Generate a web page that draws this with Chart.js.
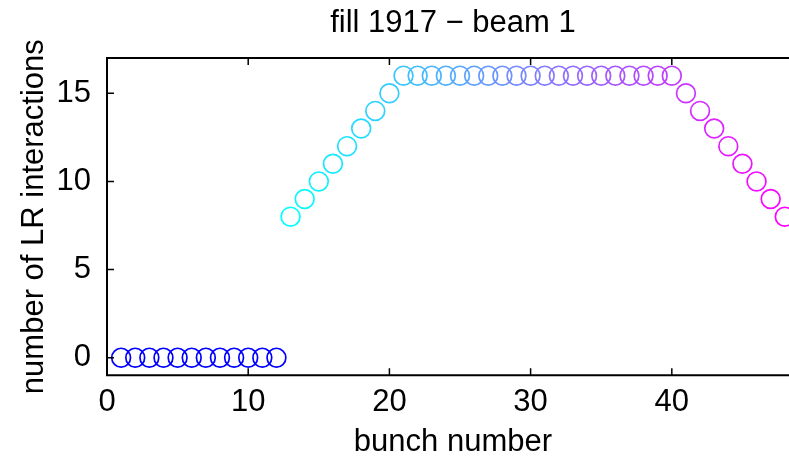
<!DOCTYPE html>
<html>
<head>
<meta charset="utf-8">
<script src="https://cdn.jsdelivr.net/npm/chart.js@4.4.1/dist/chart.umd.min.js"></script>
<style>
html, body { margin: 0; padding: 0; background: #ffffff; overflow: hidden; width: 789px; height: 457px; }
#wrap { width: 789px; height: 457px; overflow: hidden; position: relative; }
canvas { display: block; }
</style>
</head>
<body>
<div id="wrap"><canvas id="c" width="810" height="457"></canvas></div>
<script>
const titleText = "fill 1917 \u2212 beam 1";
const xLabel = "bunch number";
const yLabel = "number of LR interactions";
const bunchNumbers = [1,2,3,4,5,6,7,8,9,10,11,12,13,14,15,16,17,18,19,20,21,22,23,24,25,26,27,28,29,30,31,32,33,34,35,36,37,38,39,40,41,42,43,44,45,46,47,48];
const lrInteractions = [0,0,0,0,0,0,0,0,0,0,0,0,8,9,10,11,12,13,14,15,16,16,16,16,16,16,16,16,16,16,16,16,16,16,16,16,16,16,16,16,15,14,13,12,11,10,9,8];
const xTicks = [0,10,20,30,40];
const yTicks = [0,5,10,15];

const FONT = "'Liberation Sans', Arial, Helvetica, sans-serif";
const FS = 31;

// colours: first train blue, then "cool" colormap cyan -> magenta
const pointColors = bunchNumbers.map((b, i) => {
  if (i < 12) return 'rgb(0,0,255)';
  const t = (i - 12) / (bunchNumbers.length - 13);
  const r = Math.round(255 * t), g = Math.round(255 * (1 - t));
  return `rgb(${r},${g},255)`;
});

const points = bunchNumbers.map((b, i) => ({x: b, y: lrInteractions[i]}));

const framePlugin = {
  id: 'frame',
  afterDatasetsDraw(chart) {
    const ctx = chart.ctx;
    const a = chart.chartArea;
    const xs = chart.scales.x, ys = chart.scales.y;
    ctx.save();
    ctx.strokeStyle = '#000';
    ctx.lineWidth = 2;
    ctx.beginPath();
    ctx.rect(a.left, a.top, a.right - a.left, a.bottom - a.top);
    ctx.stroke();
    const tl = 7;
    ctx.beginPath();
    xTicks.forEach(v => {
      const px = xs.getPixelForValue(v);
      ctx.moveTo(px, a.bottom); ctx.lineTo(px, a.bottom - tl);
      ctx.moveTo(px, a.top); ctx.lineTo(px, a.top + tl);
    });
    yTicks.forEach(v => {
      const py = ys.getPixelForValue(v);
      ctx.moveTo(a.left, py); ctx.lineTo(a.left + tl, py);
      ctx.moveTo(a.right, py); ctx.lineTo(a.right - tl, py);
    });
    ctx.lineWidth = 1.5;
    ctx.stroke();
    // title
    ctx.fillStyle = '#000';
    ctx.font = `${FS}px ${FONT}`;
    ctx.textAlign = 'center';
    ctx.textBaseline = 'alphabetic';
    ctx.fillText(titleText, (a.left + a.right) / 2, 31.5);
    ctx.restore();
  }
};

new Chart(document.getElementById('c'), {
  type: 'scatter',
  data: {
    datasets: [{
      data: points,
      showLine: false,
      pointStyle: 'circle',
      pointRadius: 9.4,
      pointHoverRadius: 9.4,
      pointBorderWidth: 1.7,
      pointBackgroundColor: 'rgba(0,0,0,0)',
      pointBorderColor: pointColors
    }]
  },
  options: {
    responsive: false,
    animation: false,
    devicePixelRatio: 1,
    layout: { padding: { top: 58, right: 9, left: 0, bottom: 0 } },
    plugins: { legend: { display: false }, tooltip: { enabled: false }, title: { display: false } },
    scales: {
      x: {
        type: 'linear',
        min: 0, max: 49,
        afterFit(s) { s.height = 81.7; },
        afterBuildTicks(s) { s.ticks = xTicks.map(v => ({value: v})); },
        grid: { display: false, drawTicks: false },
        border: { display: false },
        ticks: { color: '#000', font: { family: FONT, size: FS }, padding: 9, maxRotation: 0, autoSkip: false },
        title: { display: true, text: xLabel, color: '#000', font: { family: FONT, size: FS, lineHeight: 1 }, padding: { top: 0, bottom: -1 } }
      },
      y: {
        type: 'linear',
        min: -1, max: 17,
        afterFit(s) { s.width = 107; },
        afterBuildTicks(s) { s.ticks = yTicks.map(v => ({value: v})); },
        grid: { display: false, drawTicks: false },
        border: { display: false },
        ticks: { color: '#000', font: { family: FONT, size: FS }, padding: 16, autoSkip: false },
        title: { display: true, text: yLabel, color: '#000', font: { family: FONT, size: FS, lineHeight: 1 }, padding: { top: 19, bottom: 0 } }
      }
    }
  },
  plugins: [framePlugin]
});
</script>
</body>
</html>
